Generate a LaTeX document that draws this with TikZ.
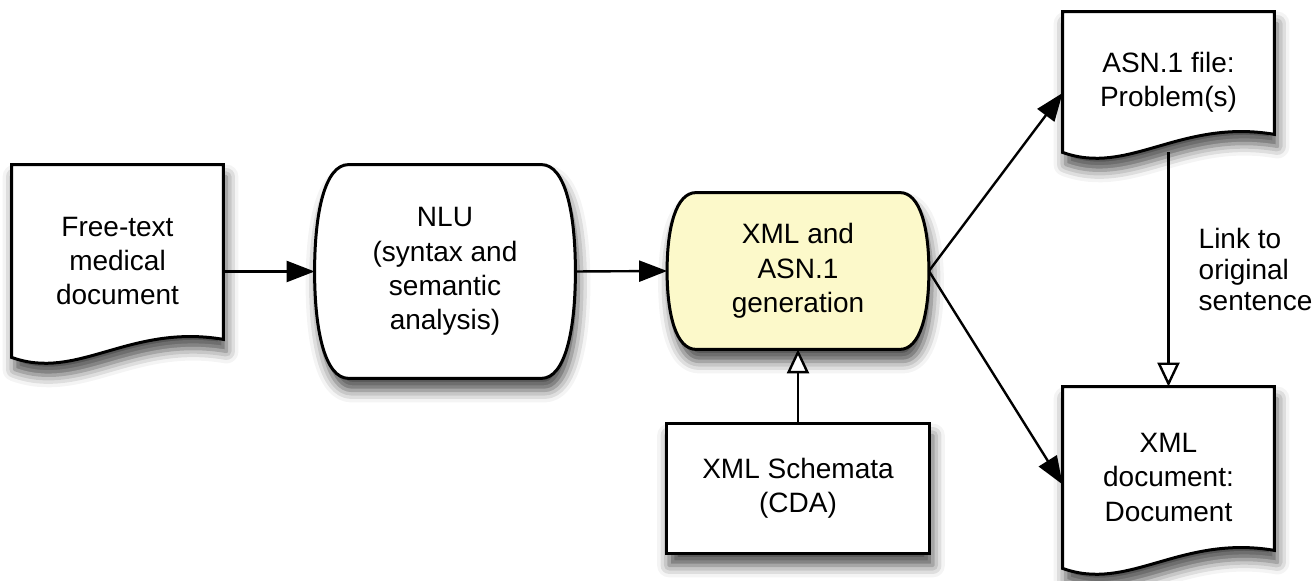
\documentclass[tikz,border=0pt]{standalone}
\usepackage{fontspec}
\setmainfont{Liberation Sans}
\usetikzlibrary{arrows.meta,calc,backgrounds,shadows.blur}
\definecolor{genyellow}{HTML}{FCF9CA}
% document sheet with a wavy lower edge
\newcommand\docpath[1]{(#1.north west) -- (#1.north east) -- ([yshift=9pt]#1.south east)
  .. controls ([xshift=-47pt,yshift=17pt]#1.south east) and ([xshift=33pt,yshift=-12pt]#1.south west) .. (#1.south west) -- cycle}
% box with bulging left and right sides
\newcommand\bulgepath[2]{([xshift=#2]#1.north west) -- ([xshift=-#2]#1.north east)
  .. controls ([xshift=-0.3*#2]#1.north east) and ($(#1.east)!0.55!(#1.north east)$) .. (#1.east)
  .. controls ($(#1.east)!0.55!(#1.south east)$) and ([xshift=-0.3*#2]#1.south east) .. ([xshift=-#2]#1.south east)
  -- ([xshift=#2]#1.south west)
  .. controls ([xshift=0.3*#2]#1.south west) and ($(#1.west)!0.55!(#1.south west)$) .. (#1.west)
  .. controls ($(#1.west)!0.55!(#1.north west)$) and ([xshift=0.3*#2]#1.north west) .. ([xshift=#2]#1.north west) -- cycle}
\begin{document}
\begin{tikzpicture}[x=0.5pt, y=-0.5pt,
  main node/.style={align=center, inner sep=0pt, font=\fontsize{14pt}{17.2pt}\selectfont},
  shape line/.style={draw=black, line width=1.5pt, fill=white,
    blur shadow={shadow xshift=1.5pt, shadow yshift=-6pt, shadow blur radius=6pt, shadow opacity=70}},
  fill arrow/.style={draw=black, line width=1.2pt, -{Triangle[length=14pt, width=10.5pt, fill=black]}},
  open arrow/.style={draw=black, line width=1.2pt, -{Triangle[open, length=12pt, width=11pt, fill=white]}},
  link label/.style={align=left, inner sep=0pt, font=\fontsize{14pt}{15.5pt}\selectfont}]
\useasboundingbox (0,0) rectangle (1314,581);
\begin{scope}[every node/.style={main node}]
\node[minimum width=105.5pt, minimum height=96pt] (ftd) at (117.5,261) {Free-text\\medical\\document};
\node[minimum width=130pt, minimum height=106.5pt] (nlu) at (445,271.5) {NLU\\(syntax and\\semantic\\analysis)};
\node[minimum width=130.5pt, minimum height=78pt] (gen) at (798,271) {XML and\\ASN.1\\generation};
\node[minimum width=131.5pt, minimum height=64.5pt] (cda) at (798,488.5) {XML Schemata\\(CDA)};
\node[minimum width=105.5pt, minimum height=70pt] (asn) at (1168.5,82) {ASN.1 file:\\Problem(s)};
\node[minimum width=105.5pt, minimum height=90.5pt] (xmld) at (1168.5,477.5) {XML\\document:\\Document};
\end{scope}
\begin{pgfonlayer}{background}
\draw[shape line] \docpath{ftd};
\draw[shape line] \bulgepath{nlu}{17pt};
\draw[shape line, fill=genyellow] \bulgepath{gen}{14.5pt};
\draw[shape line] (cda.north west) rectangle (cda.south east);
\draw[shape line] \docpath{asn};
\draw[shape line] \docpath{xmld};
\end{pgfonlayer}
\begin{scope}
\draw[fill arrow] (ftd.east |- nlu.west) -- (nlu.west);
\draw[fill arrow] (nlu.east) -- (gen.west);
\draw[fill arrow] (gen.east) -- ([yshift=-5.5pt]asn.west);
\draw[fill arrow] (gen.east) -- ([yshift=-3.5pt]xmld.west);
\draw[open arrow] (cda.north) -- (gen.south);
\draw[open arrow] (asn.south) -- node[link label, anchor=west, xshift=14.5pt] {Link to\\original\\sentence} (xmld.north);
\end{scope}
\end{tikzpicture}
\end{document}
